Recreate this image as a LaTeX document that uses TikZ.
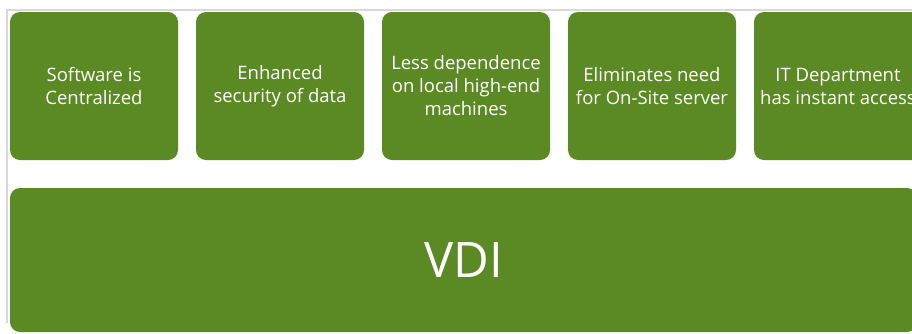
\documentclass[tikz,border=0pt]{standalone}
\usepackage{fontspec}
\setmainfont{Open Sans}
\definecolor{vdigreen}{HTML}{5B8A24}
\definecolor{framegray}{HTML}{D9D9D9}
\begin{document}
\begin{tikzpicture}[x=1pt,y=-1pt,
  tile/.style={fill=vdigreen,rounded corners=10pt,inner sep=0pt,
    minimum width=168pt,minimum height=148pt,text=white,align=center,
    font=\fontsize{18.5}{23}\selectfont},
  base/.style={tile,minimum width=907pt,minimum height=144pt,
    font=\fontsize{49}{56}\selectfont}]

\useasboundingbox (0,0) rectangle (912,333);
\clip (0,0) rectangle (912,333);

% Frame
\draw[color=framegray,line width=1.5pt](7,323)--(7,10)--(913,10);

% Benefits
\node[tile] (soft) at (94,86) {Software is\\Centralized};
\node[tile] (secure) at (280,86) {Enhanced\\security of data};
\node[tile] (local) at (466,86) {Less dependence\\on local high-end\\machines};
\node[tile] (server) at (652,86) {Eliminates need\\for On-Site server};
\node[tile] (access) at (838,86) {IT Department\\has instant access};

% Base
\node[base] (vdi) at (463.5,260) {VDI};

\end{tikzpicture}
\end{document}
